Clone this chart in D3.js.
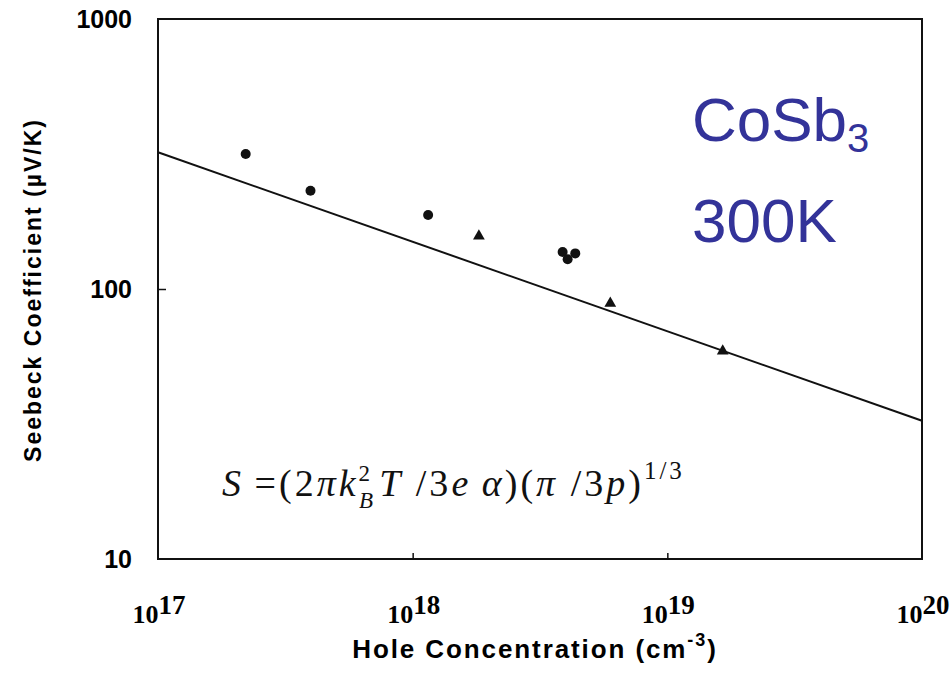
<!DOCTYPE html>
<html>
<head>
<meta charset="utf-8">
<script src="https://cdn.jsdelivr.net/npm/d3@7"></script>
<style>
  body { margin: 0; background: #fff; }
</style>
</head>
<body>
<div id="chart"></div>
<script>
var w = 951;
var h = 678;

// data
var circleP = [2.21e17, 3.97e17, 1.15e18, 3.88e18, 4.35e18, 4.06e18];
var circleS = [316, 231, 188, 137, 135.5, 128.8];
var triP = [1.82e18, 5.97e18, 1.65e19];
var triS = [157, 88.5, 58.9];
// fitted line S ~ p^(-1/3)
var lineP = [1e17, 1e20];
var lineS = [321, 32.5];

var xTicks = [1e17, 1e18, 1e19, 1e20];
var xTickExp = ["17", "18", "19", "20"];
var yTicks = [10, 100, 1000];

var x = d3.scaleLog().domain([1e17, 1e20]).range([158, 922]);
var y = d3.scaleLog().domain([10, 1000]).range([559, 19]);

var svg = d3.select("#chart")
  .append("svg")
  .attr("width", w)
  .attr("height", h);

// frame
svg.append("rect")
  .attr("x", x(1e17))
  .attr("y", y(1000))
  .attr("width", x(1e20) - x(1e17))
  .attr("height", y(10) - y(1000))
  .attr("fill", "none")
  .attr("stroke", "#111")
  .attr("stroke-width", 2);

// inward ticks
var xAxis = d3.axisBottom(x).tickValues([1e18, 1e19]).tickSize(-6).tickFormat("");
var gx = svg.append("g").attr("transform", "translate(0," + y(10) + ")").call(xAxis);
gx.select(".domain").remove();
gx.selectAll("line").attr("stroke", "#111").attr("stroke-width", 1.5);

var yAxis = d3.axisLeft(y).tickValues([100]).tickSize(-8).tickFormat("");
var gy = svg.append("g").attr("transform", "translate(" + x(1e17) + ",0)").call(yAxis);
gy.select(".domain").remove();
gy.selectAll("line").attr("stroke", "#111").attr("stroke-width", 1.5);

// y tick labels
svg.selectAll(".ylab")
  .data(yTicks)
  .enter()
  .append("text")
  .attr("class", "ylab")
  .attr("x", 132)
  .attr("y", function(d) { return y(d) + 9; })
  .attr("text-anchor", "end")
  .style("font-family", "'Liberation Sans', Arial, sans-serif")
  .style("font-weight", "bold")
  .style("font-size", "25px")
  .text(function(d) { return d; });

// x tick labels 10^n
var xl = svg.selectAll(".xlab")
  .data(xTicks)
  .enter()
  .append("text")
  .attr("class", "xlab")
  .attr("x", function(d) { return x(d) + 1; })
  .attr("y", 623)
  .attr("text-anchor", "middle")
  .style("font-family", "'Liberation Serif', 'Times New Roman', serif")
  .style("font-weight", "bold")
  .style("font-size", "26px");
xl.append("tspan").text("10");
xl.append("tspan")
  .attr("dy", -9)
  .style("font-size", "27px")
  .text(function(d, i) { return xTickExp[i]; });

// axis titles
var xt = svg.append("text")
  .attr("x", 535)
  .attr("y", 658)
  .attr("text-anchor", "middle")
  .style("font-family", "'Liberation Sans', Arial, sans-serif")
  .style("font-weight", "bold")
  .style("font-size", "26px")
  .style("letter-spacing", "1.9px");
xt.append("tspan").text("Hole Concentration (cm");
xt.append("tspan").attr("dy", -12).style("font-size", "18px").text("-3");
xt.append("tspan").attr("dy", 12).text(")");

svg.append("text")
  .attr("transform", "translate(41,290) rotate(-90)")
  .attr("text-anchor", "middle")
  .style("font-family", "'Liberation Sans', Arial, sans-serif")
  .style("font-weight", "bold")
  .style("font-size", "23px")
  .style("letter-spacing", "2px")
  .text("Seebeck Coefficient (\u00b5V/K)");

// fitted line
var line = d3.line()
  .x(function(d) { return x(d[0]); })
  .y(function(d) { return y(d[1]); });
svg.append("path")
  .datum(d3.zip(lineP, lineS))
  .attr("d", line)
  .attr("fill", "none")
  .attr("stroke", "#111")
  .attr("stroke-width", 2);

// circles
svg.selectAll(".dot")
  .data(d3.zip(circleP, circleS))
  .enter()
  .append("circle")
  .attr("class", "dot")
  .attr("cx", function(d) { return x(d[0]); })
  .attr("cy", function(d) { return y(d[1]); })
  .attr("r", 5)
  .attr("fill", "#111");

// triangles
var tri = d3.symbol().type(d3.symbolTriangle).size(60);
svg.selectAll(".tri")
  .data(d3.zip(triP, triS))
  .enter()
  .append("path")
  .attr("class", "tri")
  .attr("d", tri)
  .attr("transform", function(d) { return "translate(" + x(d[0]) + "," + y(d[1]) + ")"; })
  .attr("fill", "#111");

// formula
var f = svg.append("text")
  .attr("x", 222)
  .attr("y", 496)
  .style("font-family", "'Liberation Serif', 'Times New Roman', serif")
  .style("font-size", "38px")
  .style("letter-spacing", "3px")
  .attr("fill", "#111");
f.append("tspan").style("font-style", "italic").text("S");
f.append("tspan").text("\u2009=(2");
f.append("tspan").style("font-style", "italic").text("\u03c0k");
f.append("tspan").attr("dy", -15).style("font-size", "23px").text("2");
f.append("tspan").attr("dx", -14).attr("dy", 27).style("font-size", "23px").style("font-style", "italic").text("B");
f.append("tspan").attr("dy", -12).attr("dx", 3).style("font-style", "italic").text("T");
f.append("tspan").text(" /3");
f.append("tspan").style("font-style", "italic").text("e\u2009\u03b1");
f.append("tspan").text(")(");
f.append("tspan").style("font-style", "italic").text("\u03c0");
f.append("tspan").text(" /3");
f.append("tspan").style("font-style", "italic").text("p");
f.append("tspan").text(")");
f.append("tspan").attr("dy", -17).style("font-size", "25px").text("1/3");

// material label
var lab = svg.append("text")
  .attr("x", 692)
  .attr("y", 141)
  .attr("fill", "#333399")
  .style("font-family", "'Liberation Sans', Arial, sans-serif")
  .style("font-size", "62px");
lab.append("tspan").text("CoSb");
lab.append("tspan").attr("dy", 11).style("font-size", "40px").text("3");

svg.append("text")
  .attr("x", 692)
  .attr("y", 242)
  .attr("fill", "#333399")
  .style("font-family", "'Liberation Sans', Arial, sans-serif")
  .style("font-size", "62px")
  .text("300K");
</script>
</body>
</html>
